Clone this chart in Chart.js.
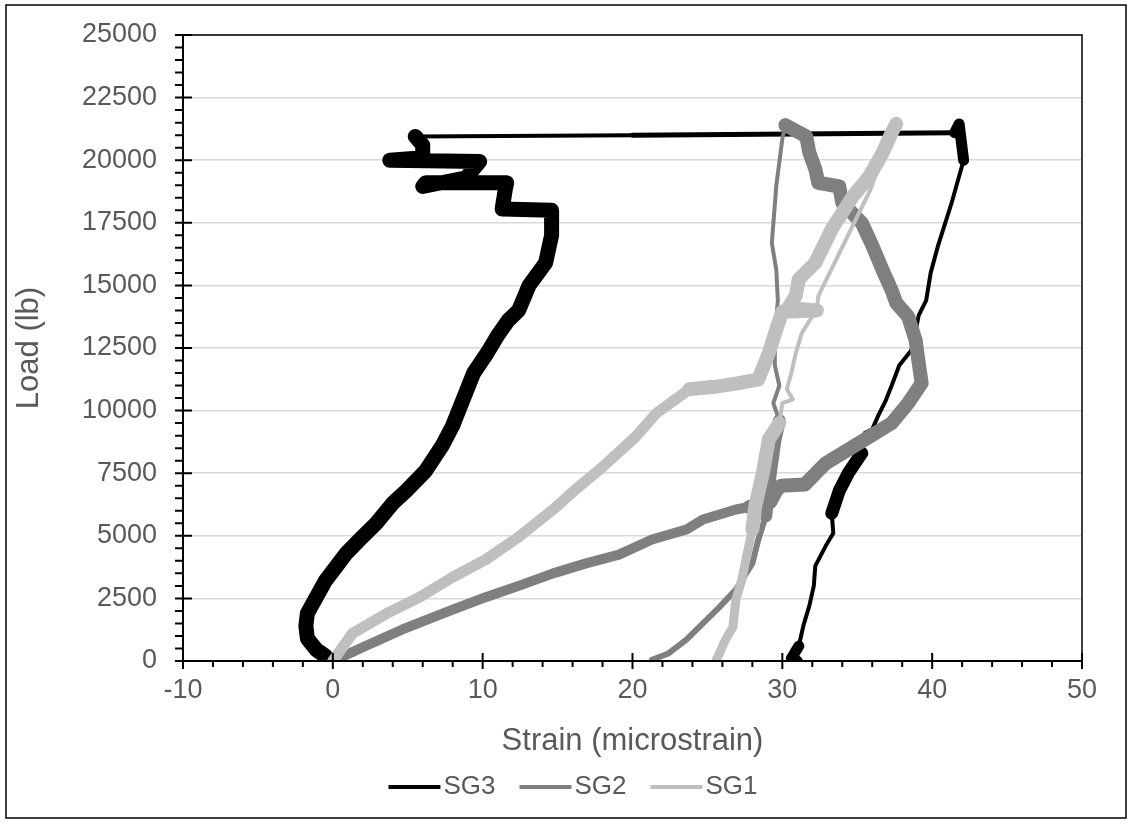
<!DOCTYPE html>
<html>
<head>
<meta charset="utf-8">
<title>Load vs strain</title>
<script src="https://cdn.jsdelivr.net/npm/chart.js@4.4.1/dist/chart.umd.min.js"></script>
<style>
  html, body { margin: 0; padding: 0; background: #fff; }
  #wrap { width: 1132px; height: 824px; }
</style>
</head>
<body>
<div id="wrap"><canvas id="loadchart" width="1132" height="824"></canvas></div>
<script>
// ---------- DATA ----------
const xTicks = [-10, 0, 10, 20, 30, 40, 50];
const yTicks = [0, 2500, 5000, 7500, 10000, 12500, 15000, 17500, 20000, 22500, 25000];

// SG3: loading on the left, jump at 21000 lb, unloading on the right
const sg3Strain = [-0.2, -0.5, -1.1, -1.7, -1.8, -1.7, -1.1, -0.5, 0.2, 0.9,
  1.8, 2.9, 4.0, 4.9, 6.2, 7.3, 8.0, 8.6, 9.4, 10.3,
  11.0, 11.7, 12.4, 13.1, 14.2, 14.6, 14.6, 11.3, 11.5, 11.6,
  6.2, 6.0, 8.9, 9.8, 3.8, 6.0, 6.0, 5.5, 20.0, 41.5,
  41.8, 42.1, 41.3, 40.4, 39.9, 39.6, 39.1, 38.9, 38.6, 37.8,
  37.3, 36.9, 36.4, 36.0, 35.5, 35.3, 34.4, 33.8, 33.3, 33.4,
  32.9, 32.2, 32.1, 31.8, 31.4, 31.1, 30.6, 31.0];
const sg3Load = [0, 200, 450, 900, 1400, 1900, 2550, 3200, 3750, 4300,
  4850, 5500, 6300, 6800, 7600, 8600, 9400, 10300, 11500, 12300,
  13000, 13600, 14000, 15000, 15900, 17000, 18000, 18050, 18800, 19100,
  19100, 18950, 19300, 19950, 20000, 20100, 20600, 20950, 21000, 21100,
  21450, 20000, 18300, 16600, 15500, 14400, 13800, 13200, 12400, 11800,
  11000, 10400, 9800, 9250, 9100, 8300, 7500, 6800, 5900, 5100,
  4600, 3800, 3000, 2200, 1400, 600, 100, 0];

const sg2Strain = [0.0, 2.0, 4.6, 8.0, 10.2, 12.4, 14.7, 16.9, 19.1, 21.3,
  23.6, 24.7, 26.9, 27.8, 29.2, 29.6, 29.9, 31.5, 32.9, 35.1,
  37.3, 38.4, 39.3, 39.1, 38.9, 38.4, 37.6, 37.3, 36.7, 36.0,
  35.3, 34.0, 33.8, 32.4, 32.2, 31.8, 31.6, 30.2, 30.0, 29.6,
  29.3, 29.6, 29.7, 29.5, 29.5, 29.8, 29.4, 29.8, 29.5, 29.2,
  29.0, 28.9, 28.4, 28.0, 26.9, 25.8, 24.7, 23.6, 22.4, 21.3];
const sg2Load = [0, 550, 1250, 2050, 2550, 3000, 3500, 3900, 4250, 4850,
  5250, 5650, 6050, 6150, 6350, 6800, 7000, 7050, 7900, 8700,
  9500, 10300, 11100, 11900, 12800, 13750, 14300, 14800, 15600, 16600,
  17500, 18300, 18950, 19100, 19650, 20300, 20950, 21400, 20850, 19000,
  16700, 15600, 14400, 13000, 11800, 11000, 10300, 9600, 8800, 7500,
  6500, 5800, 4850, 3900, 2850, 2150, 1500, 850, 300, 50];

const sg1Strain = [0.0, 1.3, 3.6, 5.8, 8.0, 10.2, 12.4, 14.7, 16.4, 18.0,
  20.2, 21.6, 23.8, 25.5, 27.1, 28.4, 29.1, 29.6, 30.0, 32.3,
  30.4, 30.9, 31.1, 32.2, 33.3, 34.7, 35.8, 36.7, 37.3, 37.6,
  36.4, 35.9, 32.4, 32.3, 31.3, 30.9, 30.6, 30.3, 30.7, 30.0,
  29.8, 29.1, 28.7, 28.2, 28.0, 27.6, 27.3, 26.9, 26.7, 26.2,
  25.8, 25.6];
const sg1Load = [0, 1100, 1900, 2550, 3350, 4050, 4950, 6050, 6950, 7750,
  8950, 9900, 10850, 10950, 11100, 11250, 12300, 13250, 13950, 14000,
  14100, 14600, 15250, 15900, 17250, 18550, 19350, 20300, 21100, 21450,
  19700, 18850, 14570, 14050, 13100, 12300, 11500, 10850, 10450, 10300,
  9500, 8850, 7500, 6200, 5250, 4150, 3250, 2450, 1350, 850,
  300, 50];

// ---------- STYLE ----------
const FONT = "'Liberation Sans', Arial, sans-serif";
const TEXT = "#595959";
const THIN = 4;
// [first point, last point, width]: the noisy stretches look like a heavy band
const sg3Widths = [[0, 37, 15], [38, 39, 5], [39, 41, 11], [55, 58, 13], [65, 67, 11]];
const sg2Widths = [[0, 13, 10], [13, 37, 14], [47, 51, 13], [51, 59, 6]];
const sg1Widths = [[0, 12, 11], [12, 29, 14], [40, 44, 14], [44, 51, 9]];
const yMinorStep = 500;
const xMinorStep = 2;

function widthAt(ranges, i) {
    for (const [a, b, w] of ranges) {
        if (i >= a && i < b) return w;
    }
    return THIN;
}

function buildPoints(strain, load) {
    return strain.map((s, i) => ({ x: s, y: load[i] }));
}

function makeDataset(label, strain, load, color, widths, order) {
    return {
        label,
        data: buildPoints(strain, load),
        showLine: true,
        borderColor: color,
        backgroundColor: color,
        borderWidth: THIN,
        borderJoinStyle: "round",
        borderCapStyle: "round",
        pointRadius: 0,
        pointHoverRadius: 0,
        tension: 0,
        order,
        segment: { borderWidth: c => widthAt(widths, c.p0DataIndex) }
    };
}

// ---------- FRAME, TICK MARKS, LEGEND ----------
const framePlugin = {
    id: "frame",
    afterDatasetsDraw(chart) {
        const { ctx, chartArea: a, scales: { x, y } } = chart;
        ctx.save();
        ctx.strokeStyle = "#000";
        ctx.lineWidth = 1.5;
        ctx.strokeRect(a.left, a.top, a.right - a.left, a.bottom - a.top);

        ctx.lineWidth = 2;
        ctx.beginPath();
        for (let v = yTicks[0]; v <= yTicks[yTicks.length - 1]; v += yMinorStep) {
            const py = y.getPixelForValue(v);
            const major = yTicks.includes(v);
            ctx.moveTo(a.left - 8, py);
            ctx.lineTo(major ? a.left + 9 : a.left, py);
        }
        for (let v = xTicks[0]; v <= xTicks[xTicks.length - 1]; v += xMinorStep) {
            const px = x.getPixelForValue(v);
            const major = xTicks.includes(v);
            ctx.moveTo(px, major ? a.bottom - 8 : a.bottom);
            ctx.lineTo(px, a.bottom + (major ? 8 : 6));
        }
        ctx.stroke();

        ctx.beginPath();
        ctx.moveTo(a.left, a.top);
        ctx.lineTo(a.left, a.bottom);
        ctx.lineTo(a.right, a.bottom);
        ctx.stroke();
        ctx.restore();
    },
    afterDraw(chart) {
        const ctx = chart.ctx;
        ctx.save();
        // outer border of the chart
        ctx.strokeStyle = "#000";
        ctx.lineWidth = 1.5;
        ctx.strokeRect(6, 5, chart.width - 12, chart.height - 11);

        // legend
        ctx.font = "26px " + FONT;
        ctx.textBaseline = "middle";
        const lineLen = 52, gap = 3, spacing = 24, cy = 787;
        const items = chart.data.datasets.map(d => ({ text: d.label, color: d.borderColor, w: ctx.measureText(d.label).width }));
        const total = items.reduce((s, it) => s + lineLen + gap + it.w, 0) + spacing * (items.length - 1);
        let lx = chart.width / 2 + 7 - total / 2;
        for (const it of items) {
            ctx.strokeStyle = it.color;
            ctx.lineWidth = 4;
            ctx.beginPath();
            ctx.moveTo(lx, cy);
            ctx.lineTo(lx + lineLen, cy);
            ctx.stroke();
            ctx.fillStyle = TEXT;
            ctx.fillText(it.text, lx + lineLen + gap, cy);
            lx += lineLen + gap + it.w + spacing;
        }
        ctx.restore();
    }
};

// ---------- CHART ----------
function renderizarGrafico() {
    const ctx = document.getElementById("loadchart").getContext("2d");
    new Chart(ctx, {
        type: "scatter",
        data: {
            datasets: [
                makeDataset("SG3", sg3Strain, sg3Load, "#000000", sg3Widths, 3),
                makeDataset("SG2", sg2Strain, sg2Load, "#7f7f7f", sg2Widths, 2),
                makeDataset("SG1", sg1Strain, sg1Load, "#bfbfbf", sg1Widths, 1)
            ]
        },
        options: {
            responsive: false,
            animation: false,
            devicePixelRatio: 1,
            layout: { padding: { left: 6, top: 35, right: 50, bottom: 63 } },
            plugins: {
                legend: { display: false },
                tooltip: { enabled: false }
            },
            scales: {
                x: {
                    type: "linear",
                    min: -10,
                    max: 50,
                    afterBuildTicks: s => { s.ticks = xTicks.map(v => ({ value: v })); },
                    afterFit: s => { s.height = 100; s.paddingLeft = 0; s.paddingRight = 0; },
                    grid: { display: false, drawTicks: false },
                    border: { display: false },
                    ticks: {
                        color: TEXT,
                        font: { family: FONT, size: 27 },
                        padding: 13,
                        maxRotation: 0,
                        autoSkip: false,
                        callback: v => String(v)
                    },
                    title: {
                        display: true,
                        text: "Strain (microstrain)",
                        color: TEXT,
                        font: { family: FONT, size: 31 },
                        padding: { top: 0, bottom: 1 }
                    }
                },
                y: {
                    type: "linear",
                    min: 0,
                    max: 25000,
                    afterBuildTicks: s => { s.ticks = yTicks.map(v => ({ value: v })); },
                    afterFit: s => { s.width = 177; s.paddingTop = 0; s.paddingBottom = 0; },
                    grid: { color: "#d9d9d9", lineWidth: 1.5, drawTicks: false },
                    border: { display: false },
                    ticks: {
                        color: TEXT,
                        font: { family: FONT, size: 27 },
                        padding: 26,
                        autoSkip: false,
                        callback: v => String(v)
                    },
                    title: {
                        display: true,
                        text: "Load (lb)",
                        color: TEXT,
                        font: { family: FONT, size: 31 },
                        padding: { top: 5, bottom: 0 }
                    }
                }
            }
        },
        plugins: [framePlugin]
    });
}

renderizarGrafico();
</script>
</body>
</html>
